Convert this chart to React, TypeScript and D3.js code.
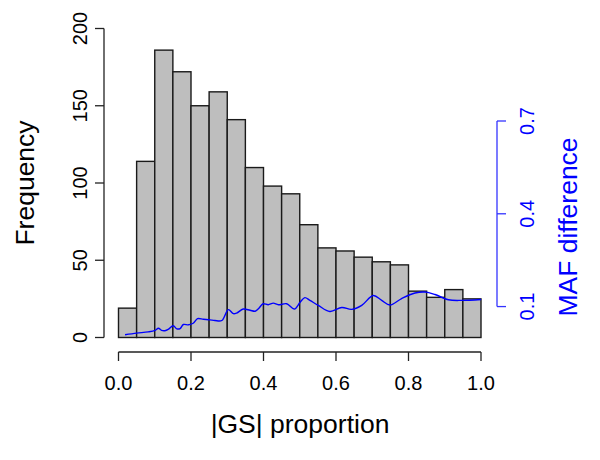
import React from "react";
import * as d3 from "d3";

const binEdges = [0, 0.05, 0.1, 0.15, 0.2, 0.25, 0.3, 0.35, 0.4, 0.45, 0.5, 0.55, 0.6, 0.65, 0.7, 0.75, 0.8, 0.85, 0.9, 0.95, 1.0];
const counts = [19, 114, 186, 172, 150, 159, 141, 110, 98, 93, 73, 58, 56, 52, 49, 47, 30, 26, 31, 25];

const mafX = [0.018, 0.05, 0.082, 0.101, 0.11, 0.119, 0.128, 0.137, 0.151, 0.161, 0.17, 0.179, 0.193, 0.206, 0.218, 0.234, 0.252, 0.266, 0.285, 0.303, 0.317, 0.326, 0.344, 0.363, 0.377, 0.386, 0.399, 0.413, 0.427, 0.441, 0.464, 0.485, 0.501, 0.514, 0.528, 0.551, 0.583, 0.616, 0.643, 0.671, 0.703, 0.726, 0.749, 0.781, 0.818, 0.846, 0.873, 0.91, 0.947, 1.0];
const mafY = [0.0088, 0.014, 0.018, 0.023, 0.03, 0.023, 0.022, 0.026, 0.038, 0.028, 0.029, 0.042, 0.041, 0.046, 0.061, 0.059, 0.057, 0.055, 0.055, 0.09, 0.077, 0.079, 0.092, 0.088, 0.085, 0.093, 0.109, 0.106, 0.111, 0.106, 0.109, 0.092, 0.114, 0.129, 0.12, 0.104, 0.084, 0.097, 0.091, 0.104, 0.136, 0.12, 0.105, 0.126, 0.144, 0.147, 0.139, 0.122, 0.12, 0.123];

const xTicks = [0, 0.2, 0.4, 0.6, 0.8, 1.0];
const yTicks = [0, 50, 100, 150, 200];
const rTicks = [0.1, 0.4, 0.7];

const FONT = "'Liberation Sans', Arial, Helvetica, sans-serif";

export default function App() {
  const x = d3.scaleLinear().domain([0, 1]).range([118.5, 481]);
  const y = d3.scaleLinear().domain([0, 200]).range([337.5, 28.5]);
  const yr = d3.scaleLinear().domain([0, 0.7]).range([337.5, 121]);
  const line = d3
    .line<number>()
    .x((_, i) => x(mafX[i]))
    .y((d) => yr(d))
    .curve(d3.curveCatmullRom.alpha(0.5));

  const axisX = 104;
  const axisY = 352;
  const rAxisX = 497;
  const tick = 9;

  return (
    <svg width={600} height={460} style={{ position: "absolute", left: 0, top: 0, background: "#fff" }} fontFamily={FONT}>
      <rect x={0} y={0} width={600} height={460} fill="#fff" />
      {counts.map((c, i) => (
        <rect
          key={i}
          x={x(binEdges[i])}
          y={y(c)}
          width={x(binEdges[i + 1]) - x(binEdges[i])}
          height={y(0) - y(c)}
          fill="#bebebe"
          stroke="#1a1a1a"
          strokeWidth={1.4}
        />
      ))}
      <path d={line(mafY) || ""} fill="none" stroke="#0000ff" strokeWidth={1.4} />

      {/* left axis */}
      <line x1={axisX} x2={axisX} y1={y(0)} y2={y(200)} stroke="#222" strokeWidth={1.3} />
      {yTicks.map((t) => (
        <g key={t}>
          <line x1={axisX - tick} x2={axisX} y1={y(t)} y2={y(t)} stroke="#222" strokeWidth={1.3} />
          <text transform={`translate(86.5,${y(t)}) rotate(-90)`} textAnchor="middle" fontSize={20} fill="#000">
            {t}
          </text>
        </g>
      ))}
      <text transform={`translate(34,183) rotate(-90)`} textAnchor="middle" fontSize={26.5} fill="#000">
        Frequency
      </text>

      {/* bottom axis */}
      <line x1={x(0)} x2={x(1)} y1={axisY} y2={axisY} stroke="#222" strokeWidth={1.3} />
      {xTicks.map((t) => (
        <g key={t}>
          <line x1={x(t)} x2={x(t)} y1={axisY} y2={axisY + tick} stroke="#222" strokeWidth={1.3} />
          <text x={x(t)} y={390} textAnchor="middle" fontSize={20} fill="#000">
            {t.toFixed(1)}
          </text>
        </g>
      ))}
      <text x={300} y={433} textAnchor="middle" fontSize={26.5} fill="#000">
        |GS| proportion
      </text>

      {/* right axis */}
      <line x1={rAxisX} x2={rAxisX} y1={yr(0.1)} y2={yr(0.7)} stroke="#3333ff" strokeWidth={1.3} />
      {rTicks.map((t) => (
        <g key={t}>
          <line x1={rAxisX} x2={rAxisX + tick} y1={yr(t)} y2={yr(t)} stroke="#3333ff" strokeWidth={1.3} />
          <text transform={`translate(534,${yr(t)}) rotate(-90)`} textAnchor="middle" fontSize={20} fill="#0000ff">
            {t.toFixed(1)}
          </text>
        </g>
      ))}
      <text transform={`translate(577,227) rotate(-90)`} textAnchor="middle" fontSize={26.5} fill="#0000ff">
        MAF difference
      </text>
    </svg>
  );
}
